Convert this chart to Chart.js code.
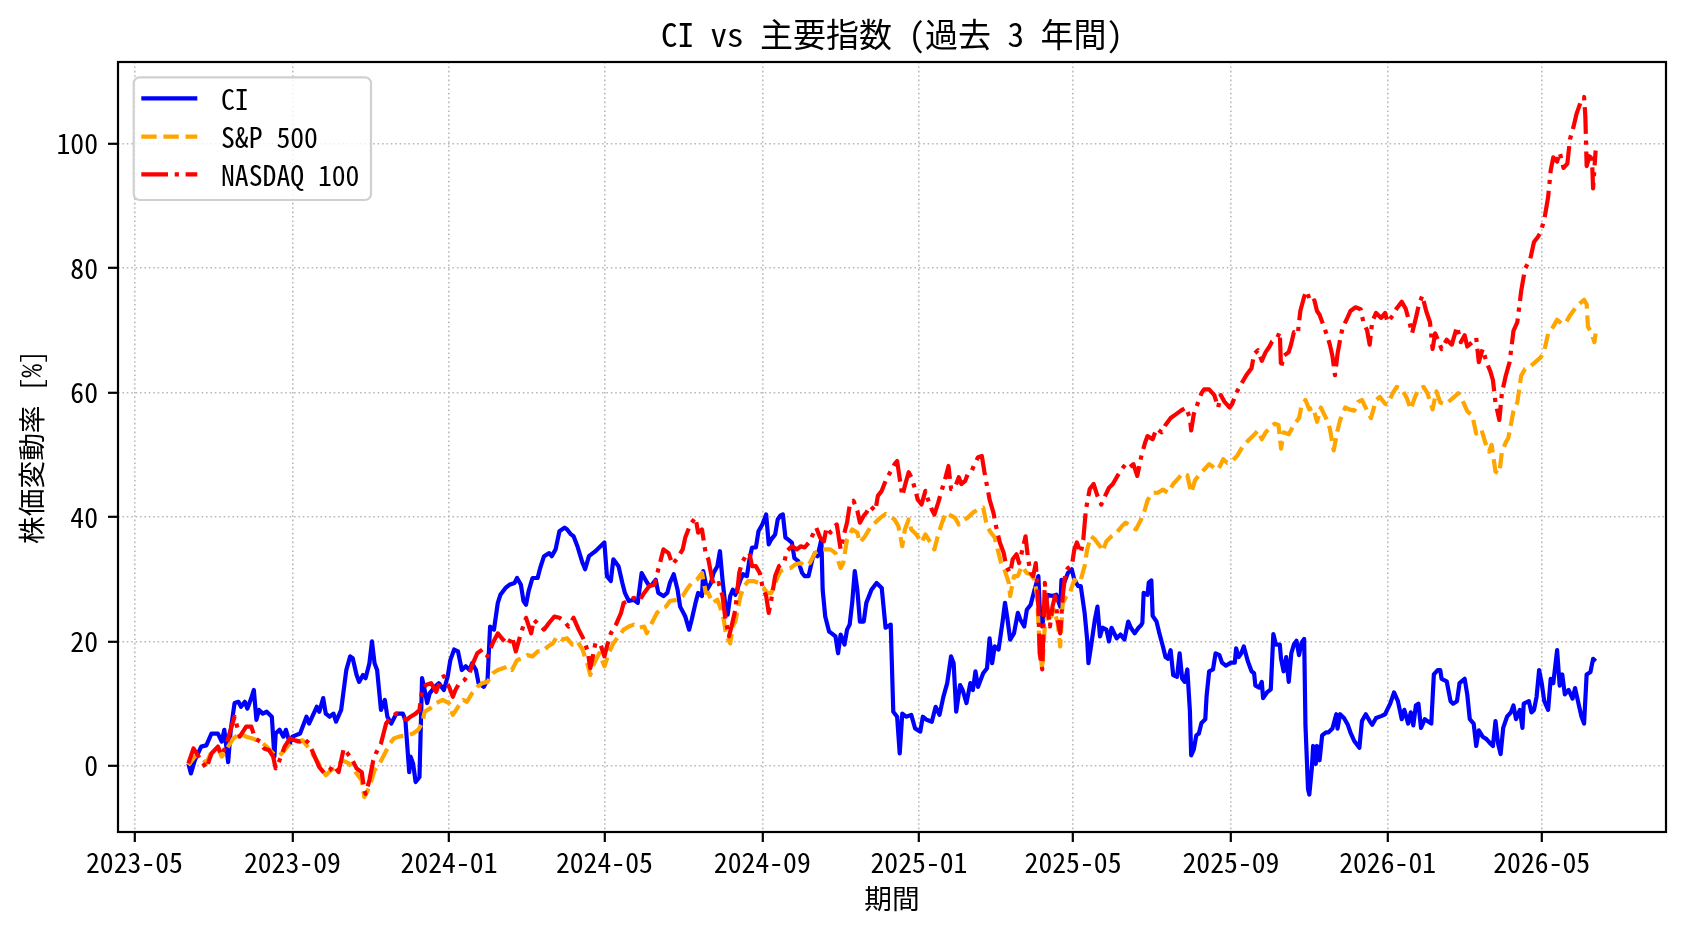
<!DOCTYPE html>
<html>
<head>
<meta charset="utf-8">
<script src="https://cdn.jsdelivr.net/npm/chart.js@4.4.1/dist/chart.umd.min.js"></script>
<style>
html,body{margin:0;padding:0;background:#fff;}
canvas{display:block;}
</style>
</head>
<body>
<canvas id="c" width="1688" height="932"></canvas>
<script>
const chartTitle = 'CI vs 主要指数 (過去 3 年間)';
const xAxisTitle = '期間';
const yAxisTitle = '株価変動率 [%]';
const seriesNames = ['CI', 'S&P 500', 'NASDAQ 100'];
const xTickLabels = ['2023-05','2023-09','2024-01','2024-05','2024-09','2025-01','2025-05','2025-09','2026-01','2026-05'];
const yTickValues = [0, 20, 40, 60, 80, 100];

const ciDates = [
'2023-06-12','2023-06-14','2023-06-17','2023-06-22','2023-06-26','2023-06-30','2023-07-05','2023-07-08','2023-07-10','2023-07-13','2023-07-15','2023-07-18','2023-07-21','2023-07-23','2023-07-26','2023-07-28','2023-07-31','2023-08-02','2023-08-04','2023-08-06','2023-08-09','2023-08-12','2023-08-16','2023-08-18','2023-08-19','2023-08-22','2023-08-25','2023-08-27','2023-08-30','2023-09-01','2023-09-07','2023-09-12','2023-09-14','2023-09-20','2023-09-22','2023-09-25','2023-09-27','2023-09-30','2023-10-03','2023-10-05','2023-10-09','2023-10-13','2023-10-16','2023-10-18','2023-10-21','2023-10-23','2023-10-26','2023-10-28','2023-10-31','2023-11-02','2023-11-04','2023-11-06','2023-11-09','2023-11-12','2023-11-14','2023-11-17','2023-11-21','2023-11-26','2023-11-28','2023-12-01','2023-12-02','2023-12-04','2023-12-06','2023-12-09','2023-12-11','2023-12-13','2023-12-15','2023-12-17','2023-12-21','2023-12-24','2023-12-28','2023-12-31',
'2024-01-02','2024-01-05','2024-01-08','2024-01-11','2024-01-14','2024-01-17','2024-01-19','2024-01-22','2024-01-24','2024-01-28','2024-01-31','2024-02-02','2024-02-05','2024-02-08','2024-02-10','2024-02-14','2024-02-17','2024-02-21','2024-02-23','2024-02-26','2024-02-28','2024-03-01','2024-03-03','2024-03-06','2024-03-10','2024-03-12','2024-03-15','2024-03-19','2024-03-21','2024-03-24','2024-03-27','2024-03-31','2024-04-02','2024-04-05','2024-04-07','2024-04-10','2024-04-14','2024-04-16','2024-04-19','2024-04-22','2024-04-24','2024-04-28','2024-05-01','2024-05-03','2024-05-06','2024-05-08','2024-05-12','2024-05-15','2024-05-17','2024-05-20','2024-05-24','2024-05-27','2024-05-30','2024-06-02','2024-06-05','2024-06-07','2024-06-10','2024-06-12','2024-06-16','2024-06-19','2024-06-21','2024-06-24','2024-06-27','2024-06-29','2024-07-03','2024-07-06','2024-07-08','2024-07-11','2024-07-13','2024-07-16','2024-07-17','2024-07-20','2024-07-23','2024-07-25','2024-07-28','2024-07-30','2024-08-01','2024-08-03','2024-08-05','2024-08-07','2024-08-09','2024-08-11','2024-08-15','2024-08-17','2024-08-20','2024-08-22','2024-08-24','2024-08-27','2024-08-29','2024-09-01','2024-09-04','2024-09-06','2024-09-08','2024-09-11','2024-09-13','2024-09-15','2024-09-17','2024-09-19','2024-09-21','2024-09-24','2024-09-26','2024-09-29','2024-10-02','2024-10-04','2024-10-07','2024-10-10','2024-10-12','2024-10-14','2024-10-17','2024-10-18','2024-10-20','2024-10-23','2024-10-25','2024-10-28','2024-10-30','2024-11-01','2024-11-04','2024-11-06','2024-11-08','2024-11-10','2024-11-12','2024-11-14','2024-11-16','2024-11-19','2024-11-21','2024-11-25','2024-11-29','2024-12-03','2024-12-06','2024-12-10','2024-12-12','2024-12-15','2024-12-17','2024-12-19','2024-12-22','2024-12-26','2024-12-29',
'2025-01-02','2025-01-04','2025-01-07','2025-01-11','2025-01-14','2025-01-17','2025-01-20','2025-01-23','2025-01-26','2025-01-28','2025-01-30','2025-02-02','2025-02-04','2025-02-07','2025-02-10','2025-02-12','2025-02-14','2025-02-16','2025-02-20','2025-02-23','2025-02-25','2025-02-27','2025-03-01','2025-03-04','2025-03-07','2025-03-09','2025-03-11','2025-03-13','2025-03-16','2025-03-19','2025-03-21','2025-03-24','2025-03-26','2025-03-29','2025-04-01','2025-04-04','2025-04-05','2025-04-07','2025-04-09','2025-04-11','2025-04-15','2025-04-18','2025-04-21','2025-04-22','2025-04-24','2025-04-27','2025-04-30','2025-05-02','2025-05-05','2025-05-07','2025-05-10','2025-05-12','2025-05-13','2025-05-15','2025-05-18','2025-05-20','2025-05-22','2025-05-24','2025-05-27','2025-05-29','2025-05-31','2025-06-04','2025-06-07','2025-06-10','2025-06-13','2025-06-15','2025-06-18','2025-06-21','2025-06-23','2025-06-24','2025-06-25','2025-06-28','2025-06-29','2025-07-01','2025-07-02','2025-07-05','2025-07-07','2025-07-10','2025-07-12','2025-07-14','2025-07-16','2025-07-18','2025-07-21','2025-07-23','2025-07-25','2025-07-27','2025-07-29','2025-07-31','2025-08-01','2025-08-03','2025-08-05','2025-08-07','2025-08-09','2025-08-12','2025-08-13','2025-08-15','2025-08-18','2025-08-20','2025-08-23','2025-08-25','2025-08-28','2025-09-01','2025-09-04','2025-09-05','2025-09-07','2025-09-09','2025-09-11','2025-09-14','2025-09-17','2025-09-19','2025-09-20','2025-09-23','2025-09-25','2025-09-26','2025-09-29','2025-10-02','2025-10-04','2025-10-06','2025-10-09','2025-10-10','2025-10-12','2025-10-14','2025-10-16','2025-10-18','2025-10-20','2025-10-22','2025-10-24','2025-10-26','2025-10-28','2025-10-29','2025-10-31','2025-11-01','2025-11-03','2025-11-04','2025-11-06','2025-11-07','2025-11-09','2025-11-11','2025-11-14','2025-11-16','2025-11-19','2025-11-22','2025-11-23','2025-11-25','2025-11-28','2025-12-01','2025-12-03','2025-12-06','2025-12-10','2025-12-12','2025-12-15','2025-12-18','2025-12-20','2025-12-23','2025-12-27','2025-12-30',
'2026-01-03','2026-01-06','2026-01-09','2026-01-12','2026-01-14','2026-01-17','2026-01-19','2026-01-21','2026-01-23','2026-01-25','2026-01-27','2026-01-30','2026-02-01','2026-02-04','2026-02-06','2026-02-09','2026-02-11','2026-02-12','2026-02-16','2026-02-19','2026-02-21','2026-02-24','2026-02-26','2026-03-02','2026-03-04','2026-03-06','2026-03-09','2026-03-11','2026-03-13','2026-03-16','2026-03-19','2026-03-22','2026-03-24','2026-03-26','2026-03-28','2026-03-30','2026-04-01','2026-04-04','2026-04-07','2026-04-09','2026-04-11','2026-04-14','2026-04-16','2026-04-17','2026-04-21','2026-04-23','2026-04-25','2026-04-27','2026-04-29','2026-05-01','2026-05-03','2026-05-06','2026-05-08','2026-05-10','2026-05-13','2026-05-15','2026-05-17','2026-05-19','2026-05-22','2026-05-25','2026-05-27','2026-05-30','2026-06-01','2026-06-03','2026-06-05','2026-06-08','2026-06-10','2026-06-12'
];
const ciValues = [
0.4,-1.2,0.9,3.1,3.3,5.2,5.2,3.9,5.8,0.6,5.8,10.1,10.3,9.5,10.3,9.2,10.9,12.2,7.4,9.0,8.4,8.7,7.9,1.5,5.2,5.8,4.7,5.8,3.6,4.7,5.2,7.9,6.8,9.5,8.7,10.9,8.4,7.9,8.4,7.1,9.0,15.4,17.6,17.3,14.6,13.5,14.6,14.1,16.5,20.0,16.5,15.4,9.0,10.6,7.9,6.8,8.4,8.4,7.4,-1.0,1.5,0.4,-2.6,-1.8,14.1,12.2,10.1,11.7,12.7,13.3,12.2,14.4,
17.0,18.7,18.4,15.4,16.0,15.4,16.5,15.4,13.3,12.7,13.8,22.4,21.9,26.2,27.5,28.6,29.1,29.4,30.2,29.1,26.5,25.9,28.1,30.2,30.2,31.8,33.7,34.2,33.7,34.8,37.7,38.3,38.0,37.2,36.9,35.3,32.6,31.6,33.7,34.2,34.5,35.3,35.9,30.5,29.7,33.2,32.1,29.4,27.8,26.5,26.7,26.2,31.0,29.9,28.9,29.1,29.9,27.8,27.3,27.8,29.4,30.8,28.3,25.6,24.0,21.9,23.5,26.2,27.8,27.3,31.3,28.3,29.4,31.0,32.1,34.5,29.9,26.2,24.3,27.3,28.3,27.5,29.9,30.8,30.5,33.2,35.1,35.1,37.7,38.8,40.4,35.6,36.4,37.2,39.6,40.2,40.4,36.7,36.4,35.9,33.4,32.9,31.0,30.5,30.5,33.2,34.2,33.7,36.4,28.3,24.0,21.6,21.3,20.8,18.1,21.1,19.5,21.9,22.7,26.2,31.3,28.3,23.2,23.2,26.2,28.3,29.4,28.6,22.2,22.7,8.7,7.9,2.0,8.4,7.9,8.2,6.0,
5.5,7.9,7.4,7.1,9.5,8.2,11.1,13.3,17.6,16.5,8.7,13.0,12.2,10.1,13.3,12.2,15.2,12.7,14.9,15.7,20.5,16.5,19.2,18.7,23.0,26.2,23.5,20.3,21.3,24.6,23.5,22.4,25.1,25.9,28.3,30.5,25.6,22.4,25.6,27.5,27.3,27.5,25.6,29.9,29.4,31.0,31.6,29.9,28.9,28.9,24.6,20.3,16.5,19.2,23.5,25.6,20.8,22.2,21.9,20.0,22.2,20.5,21.1,20.3,23.2,22.2,21.3,22.2,22.6,23.0,27.8,27.5,29.5,29.8,24.1,23.2,21.5,19.2,17.5,17.2,18.6,14.6,14.3,18.1,14.0,13.5,15.5,8.9,1.7,2.6,4.9,5.2,6.9,7.5,11.2,15.2,15.5,18.1,17.8,16.6,16.1,16.6,16.6,18.9,17.5,18.1,19.2,16.9,15.2,14.9,12.9,12.6,13.5,10.9,11.8,12.3,21.2,19.5,19.5,17.2,15.2,17.5,13.5,18.1,19.5,20.1,17.8,19.8,20.4,6.6,-3.7,-4.6,-0.3,3.2,0.3,3.2,0.9,4.9,5.4,5.4,6.0,8.3,6.0,8.3,7.7,6.6,5.4,4.0,2.9,7.2,8.3,7.2,6.6,7.7,8.0,8.3,
10.0,11.8,10.4,7.5,9.0,6.8,8.6,6.5,9.7,10.0,6.1,7.5,7.2,6.8,14.7,15.4,15.4,14.0,13.6,10.4,10.0,10.4,13.3,14.0,11.5,7.5,6.8,3.2,5.7,4.7,4.3,3.6,3.2,7.2,3.6,1.9,6.1,7.9,8.6,9.7,7.5,9.0,6.1,10.0,10.4,8.6,9.0,11.1,15.4,13.3,10.4,9.0,14.0,13.3,18.6,12.9,14.7,11.5,12.2,10.8,12.5,9.7,7.9,6.8,14.7,15.1,17.2,16.8
];

const spDates = [
'2023-06-12','2023-06-17','2023-06-21','2023-06-26','2023-06-30','2023-07-05','2023-07-08','2023-07-12','2023-07-17','2023-07-22','2023-07-27','2023-08-01','2023-08-07','2023-08-12','2023-08-17','2023-08-21','2023-08-25','2023-08-30','2023-09-04','2023-09-09','2023-09-14','2023-09-20','2023-09-23','2023-09-27','2023-10-01','2023-10-05','2023-10-10','2023-10-15','2023-10-21','2023-10-25','2023-10-27','2023-10-31','2023-11-04','2023-11-08','2023-11-12','2023-11-16','2023-11-19','2023-11-23','2023-11-29','2023-12-04','2023-12-08','2023-12-11','2023-12-13','2023-12-17','2023-12-22','2023-12-27',
'2024-01-01','2024-01-04','2024-01-08','2024-01-12','2024-01-15','2024-01-19','2024-01-23','2024-01-27','2024-01-31','2024-02-04','2024-02-08','2024-02-12','2024-02-16','2024-02-19','2024-02-23','2024-02-27','2024-03-02','2024-03-06','2024-03-10','2024-03-14','2024-03-18','2024-03-22','2024-03-25','2024-03-29','2024-04-02','2024-04-06','2024-04-10','2024-04-14','2024-04-18','2024-04-20','2024-04-23','2024-04-27','2024-05-01','2024-05-05','2024-05-08','2024-05-12','2024-05-16','2024-05-20','2024-05-24','2024-05-28','2024-06-01','2024-06-03','2024-06-07','2024-06-11','2024-06-15','2024-06-18','2024-06-21','2024-06-27','2024-07-01','2024-07-04','2024-07-08','2024-07-12','2024-07-16','2024-07-19','2024-07-21','2024-07-24','2024-07-28','2024-07-30','2024-08-02','2024-08-04','2024-08-07','2024-08-09','2024-08-11','2024-08-15','2024-08-18','2024-08-21','2024-08-25','2024-08-29','2024-09-02','2024-09-05','2024-09-08','2024-09-11','2024-09-15','2024-09-19','2024-09-23','2024-09-27','2024-10-01','2024-10-04','2024-10-08','2024-10-12','2024-10-16','2024-10-20','2024-10-24','2024-10-28','2024-11-01','2024-11-03','2024-11-06','2024-11-10','2024-11-14','2024-11-16','2024-11-20','2024-11-24','2024-11-28','2024-12-02','2024-12-06','2024-12-09','2024-12-13','2024-12-16','2024-12-19','2024-12-21','2024-12-24','2024-12-26','2024-12-30',
'2025-01-03','2025-01-06','2025-01-10','2025-01-13','2025-01-16','2025-01-19','2025-01-22','2025-01-26','2025-01-29','2025-02-01','2025-02-04','2025-02-08','2025-02-12','2025-02-16','2025-02-20','2025-02-23','2025-02-26','2025-03-01','2025-03-04','2025-03-06','2025-03-09','2025-03-12','2025-03-13','2025-03-16','2025-03-19','2025-03-22','2025-03-26','2025-03-29','2025-04-01','2025-04-03','2025-04-05','2025-04-07','2025-04-09','2025-04-11','2025-04-14','2025-04-16','2025-04-19','2025-04-21','2025-04-23','2025-04-26','2025-04-28','2025-05-02','2025-05-05','2025-05-07','2025-05-10','2025-05-12','2025-05-15','2025-05-18','2025-05-22','2025-05-24','2025-05-27','2025-05-31','2025-06-04','2025-06-08','2025-06-11','2025-06-15','2025-06-19','2025-06-23','2025-06-26','2025-06-28','2025-07-02','2025-07-06','2025-07-10','2025-07-14','2025-07-18','2025-07-22','2025-07-25','2025-07-29','2025-08-01','2025-08-04','2025-08-07','2025-08-11','2025-08-15','2025-08-19','2025-08-22','2025-08-26','2025-08-29','2025-09-02','2025-09-06','2025-09-10','2025-09-14','2025-09-18','2025-09-22','2025-09-25','2025-09-28','2025-10-02','2025-10-05','2025-10-08','2025-10-10','2025-10-12','2025-10-16','2025-10-20','2025-10-24','2025-10-26','2025-10-29','2025-11-01','2025-11-04','2025-11-07','2025-11-10','2025-11-14','2025-11-17','2025-11-20','2025-11-23','2025-11-25','2025-11-29','2025-12-02','2025-12-06','2025-12-09','2025-12-12','2025-12-16','2025-12-19','2025-12-23','2025-12-26','2025-12-30',
'2026-01-01','2026-01-05','2026-01-08','2026-01-12','2026-01-16','2026-01-19','2026-01-22','2026-01-25','2026-01-29','2026-02-01','2026-02-05','2026-02-08','2026-02-11','2026-02-15','2026-02-19','2026-02-23','2026-02-25','2026-03-01','2026-03-04','2026-03-08','2026-03-11','2026-03-15','2026-03-18','2026-03-21','2026-03-23','2026-03-26','2026-03-29','2026-03-31','2026-04-03','2026-04-05','2026-04-09','2026-04-12','2026-04-15','2026-04-18','2026-04-22','2026-04-26','2026-04-30','2026-05-03','2026-05-06','2026-05-10','2026-05-13','2026-05-17','2026-05-20','2026-05-23','2026-05-27','2026-05-30','2026-06-03','2026-06-05','2026-06-06','2026-06-09','2026-06-11','2026-06-12'
];
const spValues = [
0.1,1.5,1.7,0.4,2.3,2.8,1.5,2.8,4.4,5.2,4.7,4.4,3.9,3.1,2.0,1.5,2.3,3.6,3.9,4.1,2.8,0.9,-0.2,-1.5,-0.7,-0.2,0.9,0.4,-1.2,-2.3,-5.0,-3.4,-0.7,0.4,2.0,3.6,4.4,4.7,4.9,5.2,5.8,6.8,8.7,9.2,10.1,10.6,
10.1,8.2,9.5,10.6,10.3,11.7,12.7,13.3,13.5,14.9,15.4,15.7,16.0,15.4,17.0,17.3,17.8,17.6,18.4,18.4,19.2,19.7,20.8,20.3,20.5,19.5,20.0,18.7,16.2,14.6,16.5,18.1,16.0,18.4,19.7,20.8,21.9,22.4,22.7,22.2,22.4,21.3,23.0,24.6,25.4,25.6,26.5,26.7,27.3,28.3,29.4,29.9,31.0,27.8,27.8,26.2,26.7,25.6,23.5,20.8,19.7,22.4,23.2,27.3,28.9,29.7,29.7,29.4,28.6,27.8,27.8,29.4,31.3,31.6,31.8,32.4,32.6,32.1,32.6,34.2,34.8,34.8,34.8,34.2,31.8,32.6,36.4,38.0,37.5,35.9,36.9,38.3,39.1,39.9,40.5,40.2,39.6,38.5,35.3,38.0,39.6,38.0,37.2,
35.9,37.2,35.9,34.8,37.2,39.1,40.7,40.2,39.9,38.8,39.4,39.9,40.7,41.2,41.5,38.5,37.5,36.7,34.2,32.6,31.3,29.4,27.3,30.5,30.5,32.1,31.0,30.8,29.9,27.3,18.7,15.5,22.4,24.0,24.0,25.1,23.0,19.2,26.2,27.3,27.5,29.9,29.4,29.9,32.1,34.8,36.9,36.4,35.3,34.5,36.1,36.9,37.5,38.5,39.1,38.5,38.0,39.6,41.2,42.7,43.9,43.9,44.4,43.9,45.3,46.2,47.0,46.7,43.9,45.9,46.7,47.6,48.5,47.9,47.6,49.3,48.7,49.0,49.9,51.3,52.2,53.0,53.9,52.5,53.6,54.5,55.0,54.8,51.0,53.6,53.3,54.8,55.9,57.9,58.8,57.3,57.6,55.3,57.6,55.9,54.2,50.7,53.9,55.6,57.6,57.3,57.1,58.5,58.8,57.1,55.9,58.8,59.3,58.2,
58.1,59.9,60.9,60.6,59.1,57.3,59.1,60.6,60.9,59.9,57.3,60.2,58.4,58.1,58.8,59.5,59.9,58.4,57.0,56.3,53.4,54.1,52.0,50.5,51.6,47.3,47.0,50.5,52.0,52.7,57.0,58.4,62.7,63.8,64.2,64.9,65.6,66.7,69.5,70.6,71.7,71.0,71.3,72.4,73.5,74.2,74.9,74.2,70.6,69.5,68.1,69.5
];

const ndDates = [
'2023-06-12','2023-06-16','2023-06-20','2023-06-23','2023-06-26','2023-06-30','2023-07-05','2023-07-08','2023-07-12','2023-07-14','2023-07-18','2023-07-22','2023-07-27','2023-07-31','2023-08-03','2023-08-07','2023-08-10','2023-08-14','2023-08-17','2023-08-19','2023-08-22','2023-08-26','2023-08-30','2023-09-03','2023-09-07','2023-09-10','2023-09-14','2023-09-18','2023-09-22','2023-09-26','2023-09-30','2023-10-03','2023-10-07','2023-10-11','2023-10-14','2023-10-17','2023-10-21','2023-10-25','2023-10-27','2023-10-28','2023-10-31','2023-11-03','2023-11-05','2023-11-09','2023-11-13','2023-11-17','2023-11-21','2023-11-25','2023-11-29','2023-12-02','2023-12-06','2023-12-09','2023-12-11','2023-12-14','2023-12-18','2023-12-22','2023-12-26','2023-12-28',
'2024-01-01','2024-01-04','2024-01-06','2024-01-09','2024-01-13','2024-01-17','2024-01-19','2024-01-23','2024-01-27','2024-01-31','2024-02-04','2024-02-08','2024-02-12','2024-02-16','2024-02-19','2024-02-22','2024-02-26','2024-03-01','2024-03-05','2024-03-07','2024-03-11','2024-03-15','2024-03-19','2024-03-23','2024-03-27','2024-03-31','2024-04-03','2024-04-07','2024-04-11','2024-04-15','2024-04-18','2024-04-20','2024-04-22','2024-04-24','2024-04-28','2024-05-01','2024-05-03','2024-05-06','2024-05-10','2024-05-14','2024-05-16','2024-05-20','2024-05-24','2024-05-28','2024-06-01','2024-06-05','2024-06-09','2024-06-12','2024-06-16','2024-06-20','2024-06-23','2024-06-27','2024-07-01','2024-07-03','2024-07-06','2024-07-08','2024-07-11','2024-07-13','2024-07-16','2024-07-19','2024-07-21','2024-07-24','2024-07-26','2024-07-29','2024-08-01','2024-08-03','2024-08-06','2024-08-08','2024-08-11','2024-08-14','2024-08-16','2024-08-19','2024-08-22','2024-08-24','2024-08-27','2024-08-30','2024-09-01','2024-09-04','2024-09-06','2024-09-08','2024-09-11','2024-09-14','2024-09-18','2024-09-20','2024-09-24','2024-09-28','2024-10-01','2024-10-04','2024-10-08','2024-10-11','2024-10-13','2024-10-16','2024-10-19','2024-10-21','2024-10-24','2024-10-26','2024-10-29','2024-11-01','2024-11-03','2024-11-06','2024-11-08','2024-11-11','2024-11-14','2024-11-16','2024-11-19','2024-11-21','2024-11-24','2024-11-28','2024-11-30','2024-12-03','2024-12-06','2024-12-08','2024-12-11','2024-12-13','2024-12-15','2024-12-19','2024-12-21','2024-12-24','2024-12-26','2024-12-29','2024-12-31',
'2025-01-03','2025-01-06','2025-01-08','2025-01-11','2025-01-13','2025-01-16','2025-01-19','2025-01-21','2025-01-24','2025-01-26','2025-01-29','2025-02-01','2025-02-03','2025-02-06','2025-02-08','2025-02-11','2025-02-14','2025-02-16','2025-02-19','2025-02-21','2025-02-23','2025-02-25','2025-02-28','2025-03-02','2025-03-05','2025-03-08','2025-03-10','2025-03-13','2025-03-15','2025-03-18','2025-03-20','2025-03-23','2025-03-25','2025-03-27','2025-03-29','2025-03-31','2025-04-02','2025-04-04','2025-04-05','2025-04-07','2025-04-09','2025-04-11','2025-04-13','2025-04-15','2025-04-17','2025-04-19','2025-04-21','2025-04-23','2025-04-25','2025-04-27','2025-04-30','2025-05-02','2025-05-04','2025-05-07','2025-05-09','2025-05-11','2025-05-14','2025-05-17','2025-05-20','2025-05-23','2025-05-26','2025-05-29','2025-06-01','2025-06-04','2025-06-08','2025-06-11','2025-06-14','2025-06-17','2025-06-20','2025-06-23','2025-06-26','2025-06-28','2025-07-02','2025-07-05','2025-07-09','2025-07-12','2025-07-16','2025-07-20','2025-07-24','2025-07-28','2025-07-31','2025-08-01','2025-08-03','2025-08-06','2025-08-09','2025-08-11','2025-08-15','2025-08-19','2025-08-22','2025-08-24','2025-08-27','2025-08-31','2025-09-02','2025-09-05','2025-09-09','2025-09-13','2025-09-17','2025-09-19','2025-09-22','2025-09-25','2025-09-28','2025-10-01','2025-10-03','2025-10-07','2025-10-09','2025-10-10','2025-10-12','2025-10-16','2025-10-18','2025-10-20','2025-10-23','2025-10-25','2025-10-28','2025-10-30','2025-11-02','2025-11-05','2025-11-07','2025-11-09','2025-11-12','2025-11-15','2025-11-17','2025-11-19','2025-11-21','2025-11-23','2025-11-25','2025-11-27','2025-11-30','2025-12-03','2025-12-07','2025-12-11','2025-12-13','2025-12-16','2025-12-18','2025-12-20','2025-12-23','2025-12-27','2025-12-30',
'2026-01-01','2026-01-05','2026-01-08','2026-01-12','2026-01-15','2026-01-18','2026-01-20','2026-01-23','2026-01-25','2026-01-28','2026-01-31','2026-02-03','2026-02-05','2026-02-07','2026-02-10','2026-02-12','2026-02-16','2026-02-20','2026-02-24','2026-02-27','2026-03-02','2026-03-04','2026-03-08','2026-03-11','2026-03-13','2026-03-16','2026-03-19','2026-03-22','2026-03-24','2026-03-26','2026-03-29','2026-03-31','2026-04-03','2026-04-06','2026-04-09','2026-04-12','2026-04-15','2026-04-18','2026-04-22','2026-04-25','2026-04-28','2026-04-30','2026-05-03','2026-05-06','2026-05-08','2026-05-10','2026-05-13','2026-05-15','2026-05-18','2026-05-21','2026-05-23','2026-05-26','2026-05-28','2026-05-31','2026-06-03','2026-06-04','2026-06-05','2026-06-07','2026-06-09','2026-06-10','2026-06-12'
];
const ndValues = [
0.4,2.8,1.5,0.6,-0.4,2.0,3.1,1.7,3.6,5.2,7.9,4.7,6.3,6.3,4.4,3.9,2.8,2.5,1.5,-0.4,0.9,3.1,4.4,4.1,3.9,4.4,3.6,1.7,-0.2,-1.2,-0.7,0.1,-1.0,2.8,2.0,1.2,-0.4,-1.0,-3.9,-4.5,-2.3,0.9,2.0,3.6,6.8,7.9,8.4,7.9,7.4,7.9,8.4,9.0,12.2,13.0,13.3,11.9,14.1,14.4,
12.7,11.1,12.2,13.3,13.8,14.9,16.2,18.1,18.7,17.6,19.7,21.3,20.3,19.5,20.8,18.4,21.3,23.8,21.3,23.5,22.7,21.9,23.0,24.0,23.8,23.2,22.4,23.8,21.9,20.3,18.4,15.7,17.6,19.7,19.5,17.6,19.2,21.3,22.7,24.6,26.2,26.5,27.0,26.5,27.8,28.9,29.1,31.6,34.8,34.2,32.4,33.4,34.8,36.7,38.3,39.1,39.9,37.5,38.0,34.0,33.2,29.9,28.9,29.4,27.3,24.0,20.8,22.4,25.1,31.0,32.6,33.7,34.2,32.1,32.1,31.0,28.9,27.3,24.6,26.7,30.5,32.1,32.6,34.5,35.3,34.8,35.3,35.1,36.1,37.5,38.3,36.7,36.1,38.3,37.5,38.3,38.8,34.8,36.7,39.1,41.8,42.6,41.0,39.1,40.2,40.7,41.8,41.0,43.4,44.2,45.8,46.6,47.7,48.5,49.0,43.4,45.0,47.2,46.4,44.5,42.8,
42.0,44.2,42.8,41.2,40.4,42.3,44.5,45.8,48.2,44.5,44.7,46.4,45.3,45.8,46.9,47.4,48.8,49.6,49.8,47.2,45.0,42.8,40.7,38.5,35.9,34.2,32.1,31.0,33.2,34.0,32.6,35.1,36.9,33.2,31.0,30.5,32.6,25.6,18.1,15.5,29.4,25.6,22.4,25.6,27.3,23.5,21.3,27.3,31.0,31.8,32.1,34.8,35.9,34.2,36.4,41.2,44.5,45.3,43.4,42.0,43.4,44.7,45.3,46.4,47.7,48.5,48.0,48.5,46.6,49.6,51.9,53.0,52.5,54.2,53.6,54.8,55.9,56.5,57.1,57.6,55.9,53.9,56.5,58.2,59.9,60.5,60.5,59.6,57.6,59.6,58.5,57.6,58.2,59.9,61.4,62.8,63.9,66.2,66.8,65.1,66.5,67.4,68.2,68.8,69.7,63.9,65.9,66.5,67.9,69.7,69.4,73.1,75.4,76.3,74.5,74.8,73.1,72.5,70.8,69.1,67.7,65.9,62.8,66.2,68.5,70.5,71.7,73.1,73.7,73.4,71.4,70.0,67.7,71.4,72.8,72.0,72.8,
71.3,72.4,73.5,74.6,73.5,71.3,69.5,72.0,73.8,75.6,73.1,71.3,67.0,69.5,68.1,67.0,68.5,67.7,70.6,68.1,69.2,67.4,68.1,68.8,64.9,67.0,64.9,63.4,62.0,58.4,55.6,59.9,62.7,64.9,69.9,71.3,76.3,79.9,81.4,84.2,85.0,85.7,87.8,91.4,95.7,97.8,97.1,98.6,96.1,96.8,100.7,102.9,104.7,106.5,107.5,104.3,96.4,97.8,98.6,92.8,98.9
];

const FONT = "'Noto Sans Mono CJK JP', 'Noto Sans CJK JP', sans-serif";
const toTime = s => Date.parse((s.length === 7 ? s + '-01' : s) + 'T00:00:00Z');
const pairs = (dates, vals) => dates.map((d, i) => ({x: toTime(d), y: vals[i]}));

const allTimes = [].concat(ciDates, spDates, ndDates).map(toTime);
const tMin = Math.min(...allTimes), tMax = Math.max(...allTimes);
const allVals = [].concat(ciValues, spValues, ndValues);
const vMin = Math.min(...allVals), vMax = Math.max(...allVals);
const xPad = (tMax - tMin) * 0.05, yPad = (vMax - vMin) * 0.05;

const bgPlugin = {
  id: 'bg',
  beforeDraw(c) { const ctx = c.ctx; ctx.save(); ctx.fillStyle = '#fff'; ctx.fillRect(0, 0, c.width, c.height); ctx.restore(); }
};
const framePlugin = {
  id: 'frame',
  afterDatasetsDraw(c) {
    const ctx = c.ctx, a = c.chartArea;
    ctx.save();
    ctx.strokeStyle = '#000'; ctx.lineWidth = 2.2; ctx.setLineDash([]);
    ctx.strokeRect(a.left, a.top, a.right - a.left, a.bottom - a.top);
    ctx.restore();
  }
};
const titlePlugin = {
  id: 'mtitle',
  afterDraw(c) {
    const ctx = c.ctx, a = c.chartArea;
    ctx.save();
    ctx.font = '33px ' + FONT; ctx.fillStyle = '#000';
    ctx.textAlign = 'center'; ctx.textBaseline = 'middle';
    ctx.fillText(chartTitle, (a.left + a.right) / 2, 34.5);
    ctx.restore();
  }
};
const legendPlugin = {
  id: 'mlegend',
  afterDraw(c) {
    const ctx = c.ctx;
    const x0 = 133.7, y0 = 77.3, w = 237.3, h = 122.7, r = 6;
    ctx.save();
    ctx.beginPath();
    ctx.roundRect(x0, y0, w, h, r);
    ctx.fillStyle = 'rgba(255,255,255,0.8)'; ctx.fill();
    ctx.strokeStyle = '#d0d0d0'; ctx.lineWidth = 2.2; ctx.stroke();
    const rows = [98.3, 136.7, 174.3];
    c.data.datasets.forEach((ds, i) => {
      const y = rows[i];
      ctx.beginPath();
      ctx.setLineDash(ds.borderDash || []);
      ctx.lineCap = 'butt';
      ctx.strokeStyle = ds.borderColor; ctx.lineWidth = ds.borderWidth;
      ctx.moveTo(141.3, y); ctx.lineTo(197.3, y); ctx.stroke();
      ctx.setLineDash([]);
      ctx.font = '27.7px ' + FONT; ctx.fillStyle = '#000';
      ctx.textAlign = 'left'; ctx.textBaseline = 'middle';
      ctx.fillText(ds.label, 221, y + 1);
    });
    ctx.restore();
  }
};

const tickFont = {family: FONT, size: 27.7};

new Chart(document.getElementById('c'), {
  type: 'line',
  data: {
    datasets: [
      {label: seriesNames[0], data: pairs(ciDates, ciValues), borderColor: '#0000ff', borderWidth: 4.2, order: 3},
      {label: seriesNames[1], data: pairs(spDates, spValues), borderColor: '#ffa500', borderWidth: 4.2, borderDash: [15.4, 6.7], order: 2},
      {label: seriesNames[2], data: pairs(ndDates, ndValues), borderColor: '#ff0000', borderWidth: 4.2, borderDash: [26.7, 6.7, 4.2, 6.7], order: 1}
    ]
  },
  options: {
    responsive: false,
    animation: false,
    devicePixelRatio: 1,
    events: [],
    layout: {padding: {left: 0, right: 22, top: 62, bottom: 0}},
    elements: {
      point: {radius: 0},
      line: {tension: 0, borderJoinStyle: 'round', borderCapStyle: 'butt', fill: false}
    },
    plugins: {legend: {display: false}, title: {display: false}, tooltip: {enabled: false}},
    scales: {
      x: {
        type: 'linear',
        min: tMin - xPad,
        max: tMax + xPad,
        afterBuildTicks(scale) { scale.ticks = xTickLabels.map(s => ({value: toTime(s)})); },
        afterFit(scale) { scale.height = 100; },
        ticks: {
          autoSkip: false, maxRotation: 0, minRotation: 0, padding: 4,
          color: '#000', font: tickFont,
          callback: (v, i) => xTickLabels[i]
        },
        grid: {color: '#b9b9b9', lineWidth: 1.6, drawTicks: true, tickLength: 10, tickColor: '#000', tickWidth: 2.2},
        border: {display: false, dash: [1.6, 2.8]},
        title: {display: true, text: xAxisTitle, color: '#000', font: tickFont, padding: {top: 0, bottom: 17}}
      },
      y: {
        type: 'linear',
        min: vMin - yPad,
        max: vMax + yPad,
        afterBuildTicks(scale) { scale.ticks = yTickValues.map(v => ({value: v})); },
        afterFit(scale) { scale.width = 118; },
        ticks: {padding: 10, color: '#000', font: tickFont, callback: v => String(v)},
        grid: {color: '#b9b9b9', lineWidth: 1.6, drawTicks: true, tickLength: 10, tickColor: '#000', tickWidth: 2.2},
        border: {display: false, dash: [1.6, 2.8]},
        title: {display: true, text: yAxisTitle, color: '#000', font: tickFont, padding: {top: 15, bottom: 0}}
      }
    }
  },
  plugins: [bgPlugin, framePlugin, titlePlugin, legendPlugin]
});
</script>
</body>
</html>
